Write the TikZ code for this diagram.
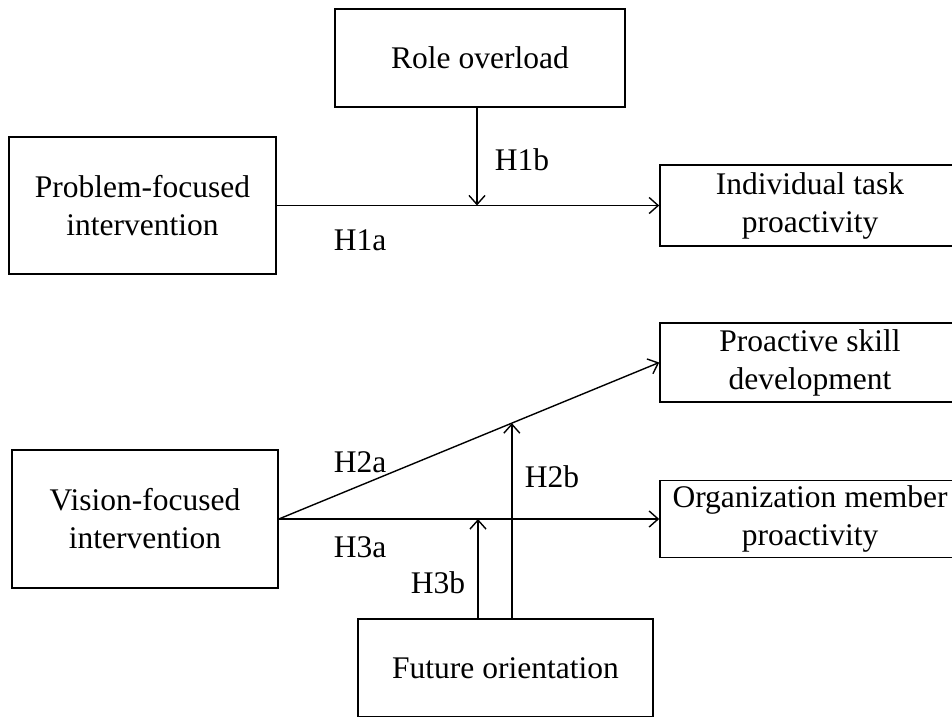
\documentclass[tikz,border=0pt]{standalone}
\usepackage{fontspec}
\setmainfont{Liberation Serif}
\usetikzlibrary{arrows.meta,calc}
\begin{document}
\begin{tikzpicture}[x=1pt,y=-1pt,
  box/.style={draw,line width=1.6pt,rectangle,align=center,inner sep=0pt,
    font=\fontsize{31.5}{38}\selectfont},
  arr/.style={line width=1.4pt,-{Straight Barb[length=9pt,width=16pt,line width=1.4pt]}},
  lab/.style={font=\fontsize{31.5}{38}\selectfont,inner sep=0pt}]
\useasboundingbox (0,0) rectangle (952,716);
\clip (0,0) rectangle (952,716);
\node[box,minimum width=290pt,minimum height=98pt] (ro) at (480,58) {Role overload};
\node[box,minimum width=267pt,minimum height=137pt] (pf) at (142.5,205.5) {Problem-focused\\intervention};
\node[box,minimum width=300pt,minimum height=81pt] (it) at (810,205.5) {Individual task\\proactivity};
\node[box,minimum width=300pt,minimum height=79pt] (ps) at (810,362.5) {Proactive skill\\development};
\node[box,minimum width=266pt,minimum height=138pt] (vf) at (145,519) {Vision-focused\\intervention};
\node[box,minimum width=300pt,minimum height=77pt] (om) at (810,519) {Organization member\\proactivity};
\node[box,minimum width=295pt,minimum height=98pt] (fo) at (505.5,668) {Future orientation};
% H1
\draw[arr] (pf.east) -- (it.west);
\coordinate (h1) at (477,205.5);
\draw[arr] (ro.south -| h1) -- (h1);
% H2
\draw[arr] (vf.east) -- (ps.west);
\path (vf.east) -- (ps.west) coordinate[pos=0.6126] (h2);
\draw[arr] (fo.north -| h2) -- (h2);
% H3
\draw[arr] (vf.east) -- (om.west);
\coordinate (h3) at (478,519);
\draw[arr] (fo.north -| h3) -- (h3);
% labels
\node[lab] (l1a) at (360,240) {H1a};
\node[lab] (l1b) at (522,160) {H1b};
\node[lab] (l2a) at (360,462) {H2a};
\node[lab] (l2b) at (552,477) {H2b};
\node[lab] (l3a) at (360,547) {H3a};
\node[lab] (l3b) at (438,583) {H3b};
\end{tikzpicture}
\end{document}
